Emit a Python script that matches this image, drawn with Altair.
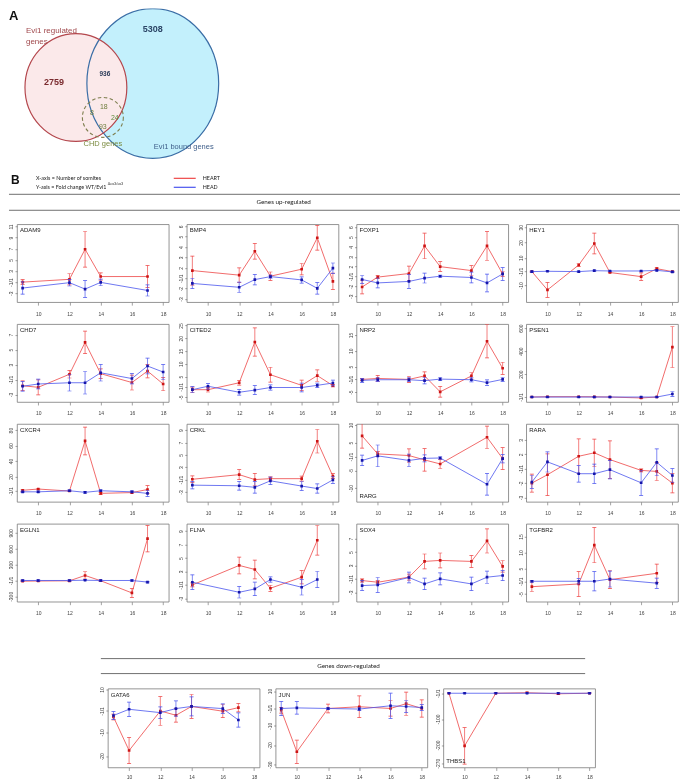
import altair as alt
import pandas as pd

# ---------------- data ----------------
SOMITES = [9, 10, 12, 13, 14, 16, 17, 18]
X_TICKS = [10, 12, 14, 16, 18]
X_DOMAIN = [8.64, 18.36]

GENES_UP = ["ADAM9", "BMP4", "FOXP1", "HEY1",
            "CHD7", "CITED2", "NRP2", "PSEN1",
            "CXCR4", "CRKL", "RARG", "RARA",
            "EGLN1", "FLNA", "SOX4", "TGFBR2"]
GENES_DOWN = ["GATA6", "JUN", "THBS1"]

# values on the plotted fold-change axis (1 and -1 share the zero line)
HEART_MEAN = {
    "ADAM9": [0.0, None, 0.5, 5.9, 1.0, None, 1.0, None],
    "BMP4": [0.74, None, 0.3, 2.6, 0.2, 0.87, 3.9, -0.3],
    "FOXP1": [-1.06, -0.06, 0.3, 3.1, 1.0, 0.6, 3.1, 0.26],
    "HEY1": [0.0, -12.0, 4.3, 18.4, -0.6, -3.3, 1.9, 0.0],
    "CHD7": [-0.83, -1.04, 0.7, 4.96, 0.78, -0.4, 1.13, -0.6],
    "CITED2": [-1.1, -1.1, 1.6, 17.5, 4.75, 0.6, 4.4, 0.5],
    "NRP2": [0.0, 0.3, 0.0, 1.1, -3.9, 1.1, 12.0, 3.5],
    "PSEN1": [0, 3, 3, 2, 0, -8, 0, 434],
    "CXCR4": [1.0, 2.6, 0.0, 65.0, -3.0, -2.0, 2.0, None],
    "CRKL": [0.05, None, 0.8, 0.0, 0.15, 0.15, 6.2, 0.55],
    "RARG": [5.9, 0.76, 0.3, -0.95, -2.1, None, 5.5, -0.57],
    "RARA": [-1.0, -0.42, 0.86, 1.1, 0.63, -0.12, -0.19, -1.0],
    "EGLN1": [-13, -10, -6, 95, -5, -234, 790, None],
    "FLNA": [0.0, None, 2.9, 2.3, -0.5, 1.15, 6.65, None],
    "SOX4": [-0.25, -0.5, 0.25, 2.6, 2.75, 2.6, 5.65, 1.85],
    "TGFBR2": [-1.7, None, -0.85, 11.3, 0.5, None, 2.5, None],
    "GATA6": [-2.5, -16.6, 0.0, -1.8, 1.9, -0.1, 1.4, None],
    "JUN": [-0.9, -22.4, 0.0, None, 0.9, 0.0, 2.5, 0.0],
    "THBS1": [0, -202, 0, None, 2, -2, None, 0],
}
HEART_ERR = {
    "ADAM9": [0.45, None, 1.0, 3.2, 0.65, None, 2.0, None],
    "BMP4": [1.4, None, 0.7, 0.75, 0.4, 0.55, 1.2, 0.8],
    "FOXP1": [0.7, 0.15, 0.75, 1.3, 0.5, 0.5, 1.45, 0.25],
    "HEY1": [0.3, 4.9, 1.0, 6.8, 0.3, 2.5, 0.6, 0.3],
    "CHD7": [0.65, 1.0, 0.5, 1.5, 0.65, 1.0, 0.9, 0.9],
    "CITED2": [1.0, 0.9, 0.9, 5.5, 2.9, 2.0, 2.2, 0.5],
    "NRP2": [0.3, 1.0, 1.0, 1.3, 1.7, 1.0, 5.2, 1.9],
    "PSEN1": [2, 3, 3, 3, 2, 4, 2, 177],
    "CXCR4": [1.3, 1.0, 0.8, 18.0, 1.3, 1.5, 5.0, None],
    "CRKL": [0.55, None, 0.8, 1.0, 0.3, 0.4, 1.9, 0.4],
    "RARG": [3.5, 0.7, 1.9, 3.2, 1.3, None, 3.2, 3.1],
    "RARA": [0.62, 1.45, 1.2, 0.95, 1.3, 0.1, 0.63, 0.68],
    "EGLN1": [10, 10, 10, 70, 10, 85, 250, None],
    "FLNA": [0.3, None, 1.25, 1.4, 0.45, 1.0, 2.2, None],
    "SOX4": [0.25, 0.25, 0.45, 1.1, 1.1, 0.9, 1.8, 0.85],
    "TGFBR2": [1.5, None, 3.9, 5.5, 2.8, None, 2.9, None],
    "GATA6": [1.2, 5.5, 6.0, 2.9, 5.0, 2.7, 1.8, None],
    "JUN": [1.5, 6.0, 2.3, None, 5.6, 4.0, 6.0, 4.5],
    "THBS1": [2, 70, 2, None, 2, 3, None, 2],
}
HEAD_MEAN = {
    "ADAM9": [-1.07, None, -0.1, -1.25, -0.05, None, -1.5, None],
    "BMP4": [-0.5, None, -0.87, -0.13, 0.16, -0.16, -0.97, 0.97],
    "FOXP1": [-0.3, -0.65, -0.5, -0.16, 0.03, -0.1, -0.65, 0.26],
    "HEY1": [0.0, 0.2, 0.0, 0.6, 0.4, 0.4, 0.8, -0.2],
    "CHD7": [-0.9, -0.6, -0.43, -0.43, 0.9, 0.13, 1.8, 1.0],
    "CITED2": [-1.1, 0.25, -2.1, -1.25, -0.25, -0.25, 0.6, 1.5],
    "NRP2": [-0.3, -0.1, -0.1, -0.4, 0.1, -0.1, -1.0, 0.0],
    "PSEN1": [0, 0, 0, 0, 0, 0, 0, 26],
    "CXCR4": [-1.0, -1.0, 0.4, -1.7, 0.4, -1.0, -3.0, None],
    "CRKL": [-0.9, None, -1.0, -1.25, -0.2, -1.05, -1.45, -0.05],
    "RARG": [-1.1, 0.2, -1.1, -0.5, -0.4, None, -7.9, -0.57],
    "RARA": [-0.93, 0.47, -0.35, -0.35, -0.07, -0.98, 0.44, -0.47],
    "EGLN1": [0, 0, 0, 5, 0, 0, -30, None],
    "FLNA": [0.4, None, -1.1, -0.6, 0.8, -0.35, 0.8, None],
    "SOX4": [-1.0, -0.9, 0.2, -0.75, 0.0, -0.75, 0.25, 0.5],
    "TGFBR2": [0.0, None, 0.0, 0.0, 0.7, None, -0.6, None],
    "GATA6": [-1.9, 0.7, -0.7, 1.0, 1.9, 1.0, -3.8, None],
    "JUN": [0.0, 0.3, 0.0, None, -0.3, 1.4, 1.0, 0.5],
    "THBS1": [0, 0, 0, None, 0, 0, None, 0],
}
HEAD_ERR = {
    "ADAM9": [1.1, None, 0.6, 1.5, 0.6, None, 1.0, None],
    "BMP4": [0.5, None, 0.5, 0.5, 0.15, 0.3, 0.55, 0.5],
    "FOXP1": [0.4, 0.5, 0.7, 0.5, 0.1, 0.55, 0.9, 0.65],
    "HEY1": [0.3, 0.3, 0.3, 0.3, 0.3, 0.3, 0.3, 0.3],
    "CHD7": [0.65, 0.65, 1.1, 1.5, 1.1, 0.7, 1.05, 1.0],
    "CITED2": [1.2, 1.1, 1.1, 1.7, 1.0, 1.7, 0.9, 1.1],
    "NRP2": [0.6, 0.6, 0.6, 1.0, 0.5, 0.7, 0.85, 0.6],
    "PSEN1": [2, 2, 2, 2, 2, 2, 2, 20],
    "CXCR4": [1.0, 1.0, 1.0, 1.0, 1.0, 1.2, 4.0, None],
    "CRKL": [0.6, None, 0.7, 0.95, 0.6, 0.7, 0.75, 0.55],
    "RARG": [1.5, 3.1, 1.8, 1.0, 0.3, None, 3.1, 1.2],
    "RARA": [0.44, 0.7, 0.58, 0.67, 0.64, 0.87, 0.93, 0.47],
    "EGLN1": [10, 10, 10, 10, 10, 10, 15, None],
    "FLNA": [1.1, None, 0.85, 1.0, 0.4, 1.15, 1.2, None],
    "SOX4": [0.75, 1.1, 0.8, 0.85, 0.9, 1.0, 0.9, 0.75],
    "TGFBR2": [0.3, None, 0.8, 3.0, 2.5, None, 1.6, None],
    "GATA6": [1.7, 3.0, 2.4, 3.2, 4.0, 2.0, 3.0, None],
    "JUN": [3.7, 3.2, 0.5, None, 0.8, 6.5, 3.0, 1.5],
    "THBS1": [2, 2, 2, None, 2, 2, None, 2],
}
Y_TICKS = {
    "ADAM9": [10, 8, 6, 4, 2, 0, -2],
    "BMP4": [5, 4, 3, 2, 1, 0, -1, -2],
    "FOXP1": [5, 4, 3, 2, 1, 0, -1, -2],
    "HEY1": [29, 19, 9, 0, -9],
    "CHD7": [6, 4, 2, 0, -2],
    "CITED2": [24, 19, 14, 9, 4, 0, -4],
    "NRP2": [14, 9, 4, 0, -4],
    "PSEN1": [599, 399, 199, 0],
    "CXCR4": [79, 59, 39, 19, 0],
    "CRKL": [8, 6, 4, 2, 0, -2],
    "RARG": [9, 4, 0, -4, -9],
    "RARA": [2, 1, 0, -1, -2],
    "EGLN1": [899, 599, 299, 0, -299],
    "FLNA": [8, 6, 4, 2, 0, -2],
    "SOX4": [6, 4, 2, 0, -2],
    "TGFBR2": [14, 9, 4, 0, -4],
    "GATA6": [9, 0, -9, -19],
    "JUN": [9, 0, -9, -19, -29],
    "THBS1": [0, -99, -199, -269],
}
Y_LABELS = {
    "ADAM9": ["11", "9", "7", "5", "3", "-1/1", "-3"],
    "BMP4": ["6", "5", "4", "3", "2", "-1/1", "-2", "-3"],
    "FOXP1": ["6", "5", "4", "3", "2", "-1/1", "-2", "-3"],
    "HEY1": ["30", "20", "10", "-1/1", "-10"],
    "CHD7": ["7", "5", "3", "-1/1", "-3"],
    "CITED2": ["25", "20", "15", "10", "5", "-1/1", "-5"],
    "NRP2": ["15", "10", "5", "-1/1", "-5"],
    "PSEN1": ["600", "400", "200", "-1/1"],
    "CXCR4": ["80", "60", "40", "20", "-1/1"],
    "CRKL": ["9", "7", "5", "3", "-1/1", "-3"],
    "RARG": ["10", "5", "-1/1", "-5", "-10"],
    "RARA": ["3", "2", "-1/1", "-2", "-3"],
    "EGLN1": ["900", "600", "300", "-1/1", "-300"],
    "FLNA": ["9", "7", "5", "3", "-1/1", "-3"],
    "SOX4": ["7", "5", "3", "-1/1", "-3"],
    "TGFBR2": ["15", "10", "5", "-1/1", "-5"],
    "GATA6": ["10", "-1/1", "-10", "-20"],
    "JUN": ["10", "-1/1", "-10", "-20", "-30"],
    "THBS1": ["-1/1", "-100", "-200", "-270"],
}
Y_DOMAIN = {
    "ADAM9": [-3.6, 10.4], "BMP4": [-2.3, 5.2], "FOXP1": [-2.6, 5.3], "HEY1": [-20, 31],
    "CHD7": [-3.0, 7.4], "CITED2": [-5.9, 24.5], "NRP2": [-7.1, 17.4], "PSEN1": [-43, 634],
    "CXCR4": [-14, 87], "CRKL": [-3.6, 9.0], "RARG": [-12.9, 9.3], "RARA": [-2.3, 3.1],
    "EGLN1": [-400, 1070], "FLNA": [-2.5, 9.1], "SOX4": [-3.4, 8.2], "TGFBR2": [-6.4, 18],
    "GATA6": [-23.7, 9.4], "JUN": [-30.5, 10.3], "THBS1": [-285, 18],
}

VENN_SETS = ["Evi1 regulated genes", "Evi1 bound genes", "CHD genes"]
VENN_COUNTS = {"regulated_only": 2759, "bound_only": 5308, "reg_bound": 936,
               "all_three": 18, "reg_chd": 8, "bound_chd": 24, "chd_only": 93}

# ---------------- layout / style ----------------
FONT = "Liberation Sans"
HFONT = "Lato"
RED_LINE, RED_PT = "#ee4646", "#cc1515"
BLUE_LINE, BLUE_PT = "#4a55ee", "#1515aa"
OX, OY = 16, 8          # page position of the header's origin

VENN_GEOM = {  # page px: cx, cy, rx, ry
    "regulated": (75, 87, 51, 54),
    "bound": (152, 83, 66, 75),
    "chd": (102, 117, 20.5, 20),
}
COUNT_POS = {"regulated_only": (53, 82, 9, "#7a2a2e", "bold"),
             "bound_only": (152, 28, 9, "#2b4566", "bold"),
             "reg_bound": (104, 74, 6.5, "#2b3b58", "bold"),
             "all_three": (103, 107, 7, "#6f7d3c", "normal"),
             "reg_chd": (91, 113, 7, "#6f7d3c", "normal"),
             "bound_chd": (114, 118, 7, "#5d8a3c", "normal"),
             "chd_only": (102, 127, 7, "#6f7d3c", "normal")}


def ellipse_path(k):
    K = 0.5523
    a, b = k * K, k
    return (f"M 1 0 C 1 {a:.4f} {K} {b:.4f} 0 {b:.4f} "
            f"C {-K} {b:.4f} -1 {a:.4f} -1 0 "
            f"C -1 {-a:.4f} {-K} {-b:.4f} 0 {-b:.4f} "
            f"C {K} {-b:.4f} 1 {-a:.4f} 1 0 Z")


ONE = pd.DataFrame({"a": [0]})


def txt(text, x, y, size, color="#222", weight="normal", align="left", font=FONT, baseline="middle"):
    return alt.Chart(pd.DataFrame({"t": [text]})).mark_text(
        align=align, baseline=baseline, fontSize=size, color=color, fontWeight=weight, font=font
    ).encode(x=alt.value(x), y=alt.value(y), text="t:N")


def ptxt(text, px, py, size, color="#222", weight="normal", align="left", font=FONT):
    """text placed by page coordinates inside the header"""
    return txt(text, px - OX, py - OY, size, color, weight, align, font)


def hline(x1, x2, y, color="#6f6f6f", width=1.0):
    return alt.Chart(ONE).mark_rule(color=color, strokeWidth=width).encode(
        x=alt.value(x1), x2=alt.value(x2), y=alt.value(y))


def panel(gene, w, h, label_bottom=False, xpad=6):
    rows = []
    for i, s in enumerate(SOMITES):
        for series, M, E in (("HEART", HEART_MEAN, HEART_ERR), ("HEAD", HEAD_MEAN, HEAD_ERR)):
            m = M[gene][i]
            if m is None:
                continue
            e = E[gene][i]
            rows.append({"somite": s, "series": series, "mean": m, "lo": m - e, "hi": m + e})
    df = pd.DataFrame(rows)
    expr = ""
    for t, l in zip(Y_TICKS[gene], Y_LABELS[gene]):
        expr += f"abs(datum.value - ({t})) < 1e-6 ? '{l}' : "
    expr += "''"
    xs = alt.Scale(domain=X_DOMAIN, nice=False, zero=False)
    ys = alt.Scale(domain=Y_DOMAIN[gene], nice=False, zero=False)
    xax = alt.Axis(values=X_TICKS, title=None, grid=False, domain=False, tickSize=3,
                   tickColor="#666", tickWidth=0.6, labelFontSize=5, labelFont=FONT,
                   labelColor="#444", labelPadding=xpad, labelFlush=False, labelOverlap=False)
    yax = alt.Axis(values=Y_TICKS[gene], labelExpr=expr, title=None, grid=False, domain=False,
                   tickSize=2, tickColor="#666", tickWidth=0.6, labelFontSize=5, labelFont=FONT,
                   labelColor="#444", labelPadding=1, labelAngle=270, labelAlign="center",
                   labelBaseline="bottom", labelFlush=False, labelOverlap=False)
    X = alt.X("somite:Q", scale=xs, axis=xax)
    layers = []
    for series, lc, pc in (("HEART", RED_LINE, RED_PT), ("HEAD", BLUE_LINE, BLUE_PT)):
        base = alt.Chart(df).transform_filter(alt.datum.series == series)
        layers.append(base.mark_rule(color=lc, strokeWidth=0.7, clip=True).encode(
            x=X, y=alt.Y("lo:Q", scale=ys, axis=yax), y2="hi:Q"))
        for f in ("lo", "hi"):
            layers.append(base.mark_tick(orient="horizontal", color=lc, size=4, thickness=0.7,
                                         opacity=1, clip=True).encode(
                x=X, y=alt.Y(f"{f}:Q", scale=ys, axis=yax)))
        layers.append(base.mark_line(color=lc, strokeWidth=0.8, clip=True).encode(
            x=X, y=alt.Y("mean:Q", scale=ys, axis=yax)))
        layers.append(base.mark_square(color=pc, size=7, opacity=1, clip=True).encode(
            x=X, y=alt.Y("mean:Q", scale=ys, axis=yax)))
    layers.append(txt(gene, 3, h - 3 if label_bottom else 3, 6, "#222",
                      baseline="bottom" if label_bottom else "top"))
    return alt.layer(*layers).properties(width=w, height=h)


# ---------------- header (panel A + legend of B) ----------------
HW, HH = 665, 215
venn_df = pd.DataFrame([{"set": k, "cx": v[0], "cy": v[1], "rx": v[2], "ry": v[3]}
                        for k, v in VENN_GEOM.items()])
vx = alt.X("cx:Q", scale=alt.Scale(domain=[OX, OX + HW], nice=False, zero=False), axis=None)
vy = alt.Y("cy:Q", scale=alt.Scale(domain=[OY, OY + HH], nice=False, zero=False, reverse=True), axis=None)


def venn_layer(name, **kw):
    cx, cy, rx, ry = VENN_GEOM[name]
    return alt.Chart(venn_df).transform_filter(alt.datum.set == name).mark_point(
        shape=ellipse_path(ry / rx), size=(2 * rx) ** 2, opacity=1, clip=True, **kw).encode(x=vx, y=vy)


head_layers = [
    venn_layer("bound", filled=True, fill="#c3f0fc", strokeWidth=0),
    venn_layer("regulated", filled=True, fill="#fbe9ea", strokeWidth=0, blend="multiply"),
    venn_layer("bound", filled=False, stroke="#3b6ea6", strokeWidth=1.2),
    venn_layer("regulated", filled=False, stroke="#b4474d", strokeWidth=1.2),
    venn_layer("chd", filled=False, stroke="#7f7f50", strokeWidth=1.1, strokeDash=[3.5, 2.5]),
]
for key, (x, y, s, c, wgt) in COUNT_POS.items():
    head_layers.append(ptxt(str(VENN_COUNTS[key]), x, y, s, c, wgt, align="center"))
head_layers += [
    ptxt("A", 8, 15, 13, "#111", "bold"),
    ptxt("Evi1 regulated", 25, 30, 8, "#a0484c"),
    ptxt("genes", 25, 41, 8, "#a0484c"),
    ptxt("CHD genes", 102, 144, 7.5, "#7b8b40", align="center"),
    ptxt("Evi1 bound genes", 183, 147, 7.5, "#3f5f8a", align="center"),
    ptxt("B", 10, 180, 12, "#111", "bold"),
    ptxt("X-axis = Number of somites", 35, 178, 5.4, "#222", font=HFONT),
    ptxt("Y-axis = Fold change WT/Evi1", 35, 187, 5.4, "#222", font=HFONT),
    ptxt("\u0394ex3/ex3", 107, 183.5, 3.6, "#222", font=HFONT),
    hline(173 - OX, 195 - OX, 178 - OY, RED_LINE, 1.2),
    hline(173 - OX, 195 - OX, 187 - OY, BLUE_LINE, 1.2),
    ptxt("HEART", 202, 178, 5.4, "#222", font=HFONT),
    ptxt("HEAD", 202, 187, 5.4, "#222", font=HFONT),
    hline(8 - OX, 680 - OX, 194 - OY),
    ptxt("Genes up-regulated", 283, 202, 6.3, "#222", align="center", font=HFONT),
    hline(8 - OX, 680 - OX, 210 - OY),
]
header = alt.layer(*head_layers).properties(width=HW, height=HH,
                                            view=alt.ViewBackground(stroke=None))

# ---------------- grids ----------------
up_grid = alt.concat(*[panel(g, 152, 78, label_bottom=(g == "RARG")) for g in GENES_UP],
                     columns=4, spacing={"row": 22, "column": 18}, bounds="flush")

DH = 69
down_header = alt.layer(
    hline(100 - OX, 585 - OX, 42),
    txt("Genes down-regulated", 348 - OX, 49.5, 6.3, "#222", align="center", font=HFONT),
    hline(100 - OX, 585 - OX, 57),
).properties(width=HW, height=DH, view=alt.ViewBackground(stroke=None))

spacer = alt.Chart(ONE).mark_point(opacity=0).encode(
    x=alt.value(0), y=alt.value(0)).properties(width=75, height=79,
                                               view=alt.ViewBackground(stroke=None))
down_grid = alt.concat(spacer, *[panel(g, 152, 79, label_bottom=(g == "THBS1"), xpad=4)
                                 for g in GENES_DOWN],
                       columns=4, spacing=16, bounds="flush")

chart = alt.vconcat(header, up_grid, down_header, down_grid, spacing=0).properties(
    padding=0).configure_view(stroke="#7a7a7a", strokeWidth=0.8)

chart.save("out.html", embed_options={"renderer": "svg", "actions": False})
